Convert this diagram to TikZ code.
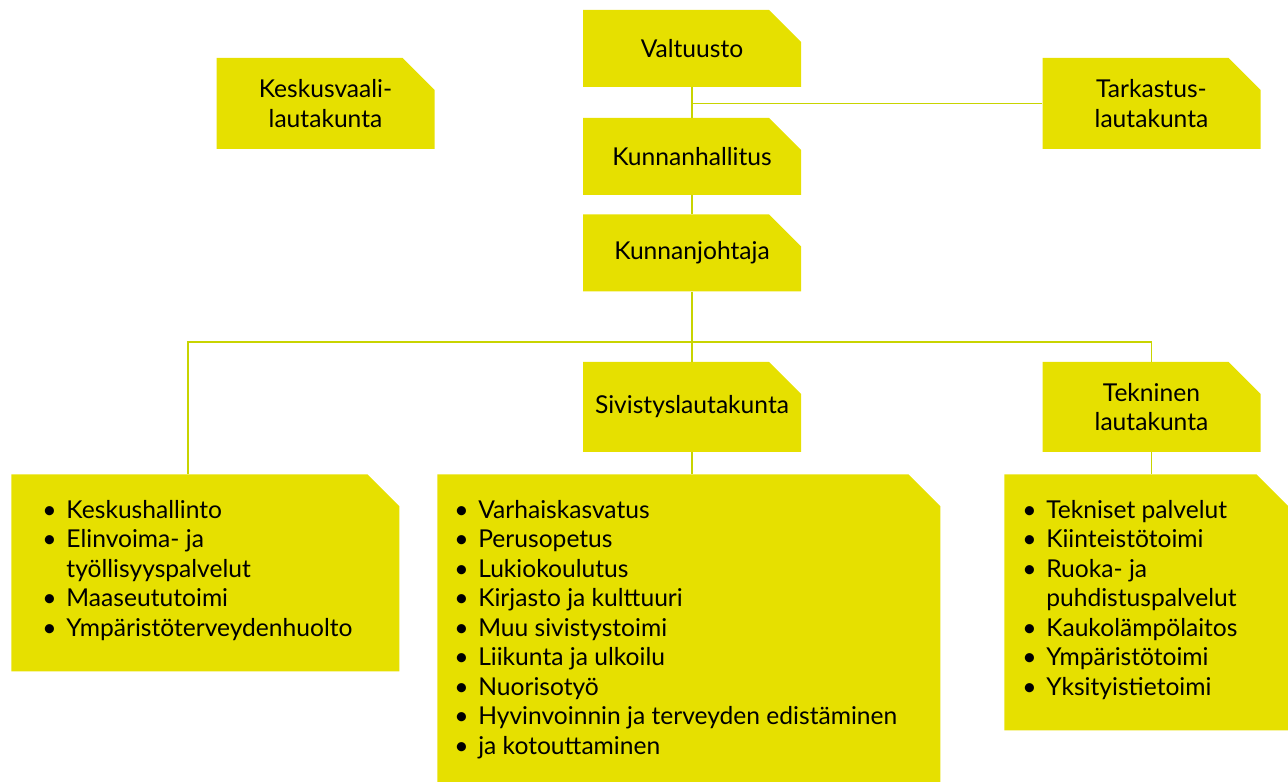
\documentclass[tikz,border=0pt]{standalone}
\usepackage{fontspec}
\setmainfont{Lato}
\usetikzlibrary{positioning}

\definecolor{kelta}{RGB}{230,224,0}
\definecolor{linja}{RGB}{200,212,0}

% bullet line with hanging indent
\newcommand{\kohta}{\par\hangindent=0.6cm\hangafter=1\noindent\makebox[0.6cm][l]{\textbullet}}

\begin{document}
\begin{tikzpicture}[
  font=\fontsize{17.5}{21}\selectfont,
  lappu/.style={rectangle, inner sep=0pt, align=center, minimum width=5.45cm, minimum height=1.925cm,
    path picture={\fill[kelta] (path picture bounding box.south west) -- (path picture bounding box.north west)
      -- ([xshift=-0.8cm]path picture bounding box.north east) -- ([yshift=-0.8cm]path picture bounding box.north east)
      -- (path picture bounding box.south east) -- cycle;}},
  lista/.style={lappu, anchor=north west, inner ysep=0pt, text height=1.1cm, minimum width=0pt, minimum height=0pt},
  yhteys/.style={draw=linja, line width=1.4pt}
]
\useasboundingbox (0,0) rectangle (32.2,-19.55);

\node[lappu] (valtuusto) at (17.3,-1.2125) {Valtuusto};
\node[lappu] (kunnanhallitus) at (17.3,-3.9125) {Kunnanhallitus};
\node[lappu] (kunnanjohtaja) at (17.3,-6.325) {Kunnanjohtaja};
\node[lappu, minimum height=2.275cm] (keskusvaali) at (8.1375,-2.5875) {Keskusvaali-\\lautakunta};
\node[lappu, minimum height=2.275cm] (tarkastus) at (28.7875,-2.5875) {Tarkastus-\\lautakunta};
\node[lappu, minimum height=2.25cm] (sivistys) at (17.3,-10.175) {Sivistyslautakunta};
\node[lappu, minimum height=2.25cm] (tekninen) at (28.7875,-10.175) {Tekninen\\lautakunta};

\node[lista, inner xsep=0.78cm, text depth=3.825cm] (hallinto) at (0.275,-11.85)
  {\parbox[t]{8.14cm}{\raggedright
   \kohta Keskushallinto
   \kohta Elinvoima- ja\newline työllisyyspalvelut
   \kohta Maaseututoimi
   \kohta Ympäristöterveydenhuolto}};
\node[lista, inner xsep=0.425cm, text depth=6.6cm] (sivistystoimi) at (10.925,-11.85)
  {\parbox[t]{11.725cm}{\raggedright
   \kohta Varhaiskasvatus
   \kohta Perusopetus
   \kohta Lukiokoulutus
   \kohta Kirjasto ja kulttuuri
   \kohta Muu sivistystoimi
   \kohta Liikunta ja ulkoilu
   \kohta Nuorisotyö
   \kohta Hyvinvoinnin ja terveyden edistäminen
   \kohta ja kotouttaminen}};
\node[lista, inner xsep=0.45cm, text depth=5.3cm] (tekniset) at (25.1,-11.85)
  {\parbox[t]{6.2cm}{\raggedright
   \kohta Tekniset palvelut
   \kohta Kiinteistötoimi
   \kohta Ruoka- ja\newline puhdistuspalvelut
   \kohta Kaukolämpölaitos
   \kohta Ympäristötoimi
   \kohta Yksityistietoimi}};

\coordinate (haara) at (4.7,-8.55);

\draw[yhteys] (valtuusto) -- (kunnanhallitus);
\draw[yhteys] (tarkastus.west) -- (tarkastus.west -| valtuusto.south);
\draw[yhteys] (kunnanhallitus) -- (kunnanjohtaja);
\draw[yhteys] (kunnanjohtaja) -- (sivistys);
\draw[yhteys] (hallinto.north -| haara) -- (haara) -| (tekninen.north);
\draw[yhteys] (sivistys.south) -- (sivistys.south |- sivistystoimi.north);
\draw[yhteys] (tekninen.south) -- (tekninen.south |- tekniset.north);

\end{tikzpicture}
\end{document}
